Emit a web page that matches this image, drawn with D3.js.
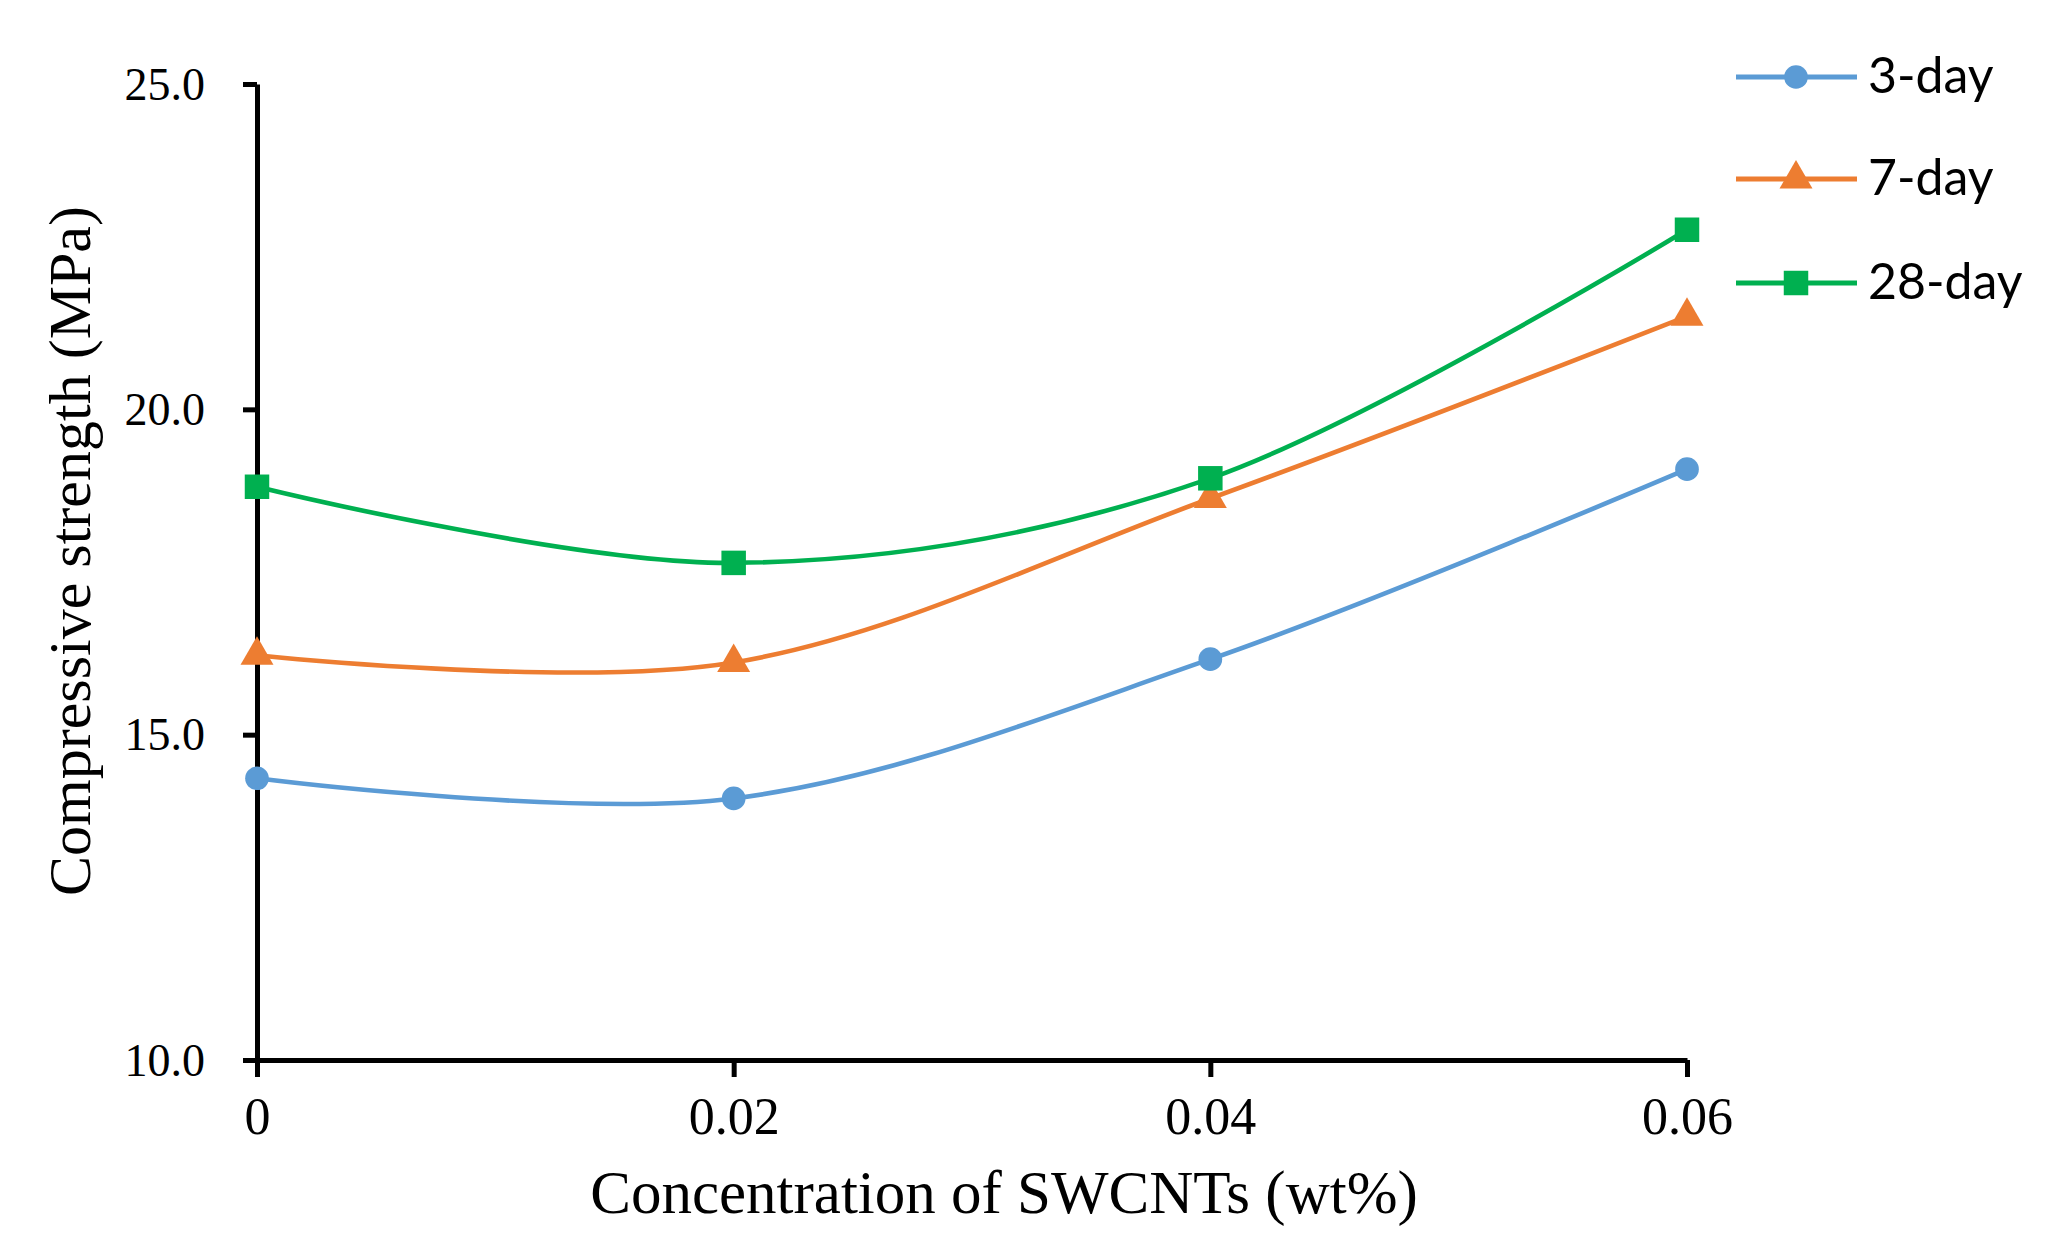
<!DOCTYPE html>
<html>
<head>
<meta charset="utf-8">
<script src="https://cdn.jsdelivr.net/npm/d3@7"></script>
<style>
   body { margin: 0; background: #fff; }
   svg { display: block; }
</style>
</head>
<body>
<div id="chart"></div>
<script>
// Data
const concentrations = [0, 0.02, 0.04, 0.06];
const xTickLabels = ["0", "0.02", "0.04", "0.06"];
const yTicks = [10, 15, 20, 25];
const seriesNames = ["3-day", "7-day", "28-day"];
const day3 = [14.33, 14.02, 16.16, 19.08];
const day7 = [16.22, 16.11, 18.63, 21.43];
const day28 = [18.81, 17.64, 18.94, 22.76];

const width = 2056;
const height = 1240;
const margin = { top: 84, right: 369, bottom: 180, left: 257 };

const serif = "'Liberation Serif', 'Times New Roman', serif";
const sans = "Lato, 'Open Sans', sans-serif";

// Each series: values, colour, marker
const series = [
   { name: seriesNames[0], values: day3, color: "#5B9BD5", symbol: d3.symbolCircle, size: 440 },
   { name: seriesNames[1], values: day7, color: "#ED7D31", symbol: d3.symbolTriangle, size: 470 },
   { name: seriesNames[2], values: day28, color: "#00B050", symbol: d3.symbolSquare, size: 600 },
];

const x = d3.scaleLinear()
   .domain([0, 0.06])
   .range([margin.left, width - margin.right]);

const y = d3.scaleLinear()
   .domain([10, 25])
   .range([height - margin.bottom, margin.top]);

const svg = d3.select("#chart")
   .append("svg")
   .attr("width", width)
   .attr("height", height);

// Axes
const xAxis = svg.append("g")
   .attr("transform", `translate(0,${y(10)})`)
   .call(
      d3.axisBottom(x)
         .tickValues(concentrations)
         .tickFormat((d, i) => xTickLabels[i])
         .tickSizeInner(17)
         .tickSizeOuter(0)
         .tickPadding(20)
   );

const yAxis = svg.append("g")
   .attr("transform", `translate(${x(0)},0)`)
   .call(
      d3.axisLeft(y)
         .tickValues(yTicks)
         .tickFormat(d3.format(".1f"))
         .tickSizeInner(14)
         .tickSizeOuter(0)
         .tickPadding(38)
   );

[xAxis, yAxis].forEach((g) => {
   g.select(".domain").attr("stroke", "#000").attr("stroke-width", 5);
   g.selectAll(".tick line").attr("stroke", "#000").attr("stroke-width", 5);
   g.selectAll(".tick text")
      .attr("fill", "#000")
      .style("font-family", serif);
});
xAxis.selectAll(".tick text").style("font-size", "52px");
yAxis.selectAll(".tick text").style("font-size", "46px").attr("dy", "0.33em");

// Axis titles
svg.append("text")
   .attr("x", 1004)
   .attr("y", 1213)
   .attr("text-anchor", "middle")
   .style("font-family", serif)
   .style("font-size", "61px")
   .text("Concentration of SWCNTs (wt%)");

svg.append("text")
   .attr("transform", `translate(90,551) rotate(-90)`)
   .attr("text-anchor", "middle")
   .style("font-family", serif)
   .style("font-size", "60px")
   .text("Compressive strength (MPa)");

// Smoothed lines (Excel-like smoothing)
const line = d3.line()
   .x((d, i) => x(concentrations[i]))
   .y((d) => y(d))
   .curve(d3.curveCardinal.tension(0));

const plot = svg.append("g");

series.forEach((s) => {
   plot.append("path")
      .datum(s.values)
      .attr("fill", "none")
      .attr("stroke", s.color)
      .attr("stroke-width", 4.6)
      .attr("stroke-linejoin", "round")
      .attr("d", line);
});

series.forEach((s) => {
   plot.append("g")
      .selectAll("path")
      .data(s.values)
      .join("path")
      .attr("transform", (d, i) => `translate(${x(concentrations[i])},${y(d)})`)
      .attr("fill", s.color)
      .attr("d", d3.symbol(s.symbol, s.size));
});

// Legend
const legend = svg.append("g");
const legendRows = [77, 179, 283];

series.forEach((s, i) => {
   const row = legend.append("g")
      .attr("transform", `translate(1736,${legendRows[i]})`);
   row.append("line")
      .attr("x1", 0)
      .attr("x2", 121)
      .attr("stroke", s.color)
      .attr("stroke-width", 5);
   row.append("path")
      .attr("transform", "translate(60,0)")
      .attr("fill", s.color)
      .attr("d", d3.symbol(s.symbol, s.size));
   row.append("text")
      .attr("x", 132)
      .attr("y", 16)
      .style("font-family", sans)
      .style("font-size", "50px")
      .attr("fill", "#000")
      .text(s.name);
});
</script>
</body>
</html>
